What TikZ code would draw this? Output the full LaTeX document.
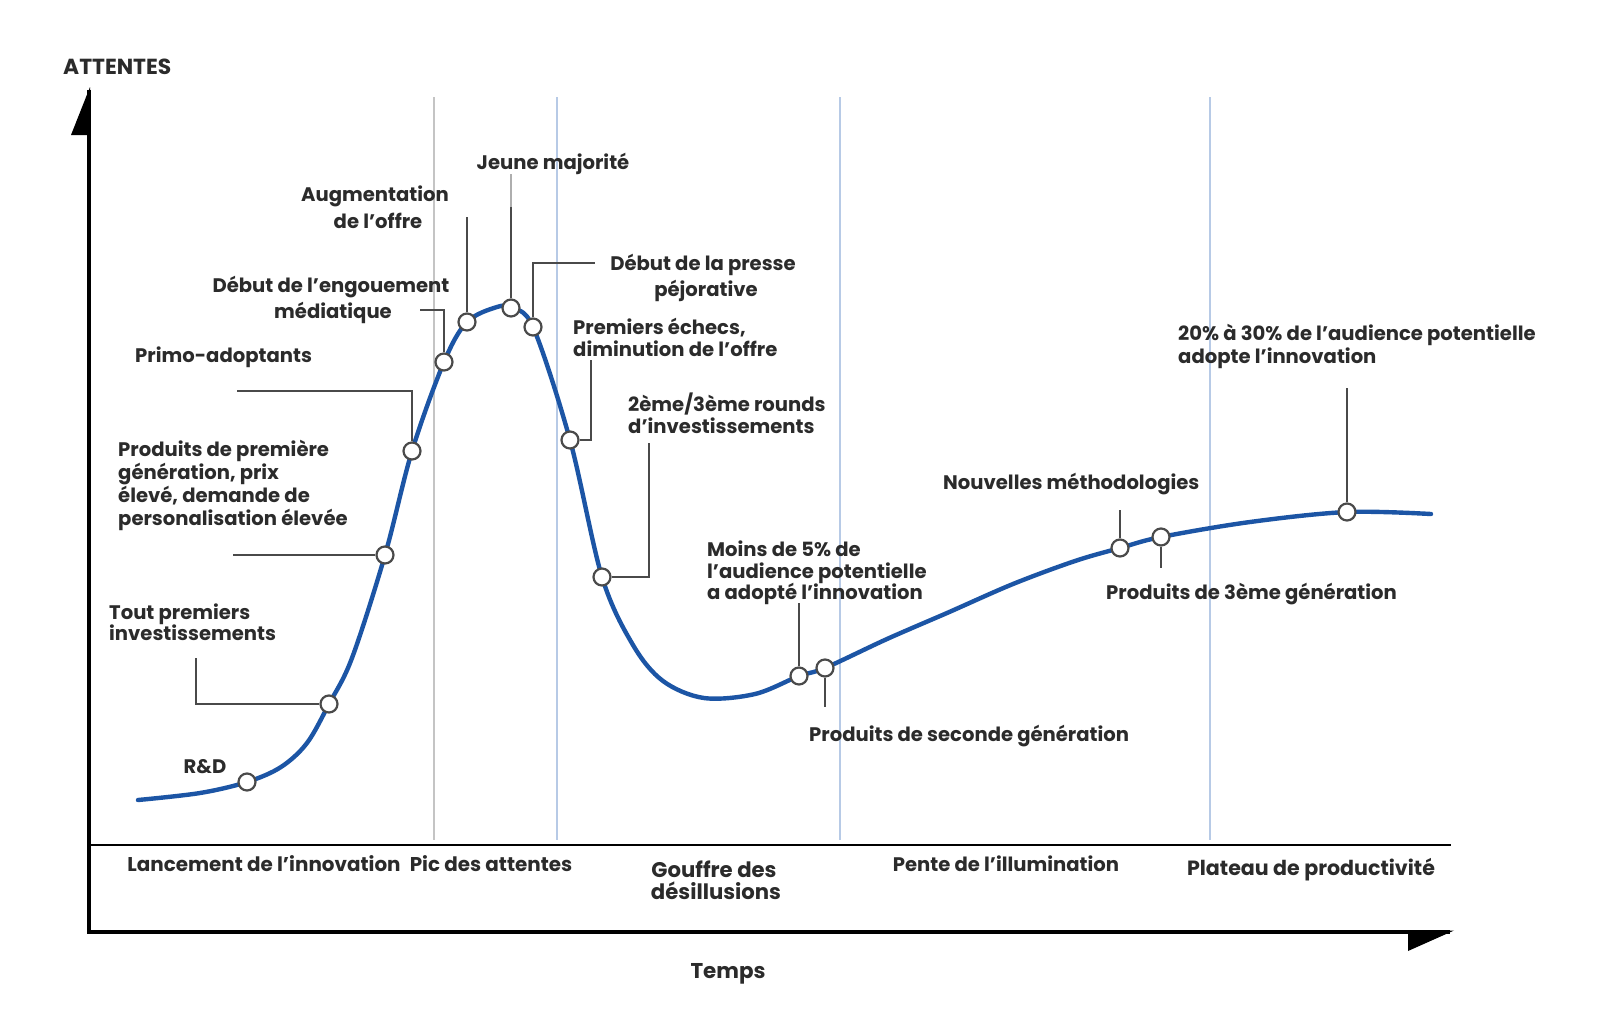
\documentclass[tikz,border=0pt]{standalone}
\usepackage{fontspec}
\setmainfont{Poppins}
\definecolor{curveblue}{HTML}{1C55A5}
\definecolor{txtgray}{HTML}{2B2B2B}
\definecolor{leadgray}{HTML}{4A4A4A}
\definecolor{phasegray}{HTML}{C4C4C4}
\definecolor{phaseblue}{HTML}{B7CAE6}
\begin{document}
\begin{tikzpicture}[x=1pt,y=-1pt,
  lbl/.style={font=\bfseries\fontsize{19.6}{23}\selectfont, text=txtgray, inner sep=0pt},
  lblL/.style={lbl, anchor=base west},
  lblC/.style={lbl, anchor=base},
  leader/.style={draw=leadgray, line width=2.4pt},
  ptmark/.style={circle, draw=leadgray, fill=white, line width=2.2pt, minimum size=17pt, inner sep=0pt},
  axisline/.style={draw=black, line width=3.2pt},
  phaseline/.style={line width=1.8pt}]
\useasboundingbox (0,0) rectangle (1600,1021);
\fill[white] (0,0) rectangle (1600,1021);

% phase lines
\draw[phaseline, phasegray] (434,97) -- (434,840);
\draw[phaseline, phaseblue] (557,97) -- (557,840);
\draw[phaseline, phaseblue] (840,97) -- (840,840);
\draw[phaseline, phaseblue] (1210,97) -- (1210,840);

% axes
\coordinate (ytop) at (89,90);
\coordinate (origin) at (89,932);
\coordinate (xend) at (1450,932);
\draw[axisline] (ytop) -- (origin) -- (xend);
\draw[axisline, line width=2.6pt] (89,845) -- (1451,845);
\fill[black] (90,87) -- (71,135) -- (90,135) -- cycle;
\fill[black] (1408,930.5) -- (1454,930.5) -- (1408,951) -- cycle;

% curve
\draw[curveblue, line width=4.4pt, line cap=round]
  plot[smooth, tension=0.55] coordinates {
  (138,800) (200,793) (247,782) (281,767) (307,743) (329,704) (352,658)
  (385,555) (412,451)
  (444,362) (467,322) (497,307) (511,308) (533,327) (570,440) (602,577)
  (633,645) (663,681) (704,698) (755,694) (799,676) (825,668)
  (887,639) (947,613) (1013,584) (1075,561) (1120,548) (1161,537)
  (1250,522) (1347,512) (1431,514)};

% markers
\node[ptmark] (rd)     at (247,782) {};
\node[ptmark] (tout)   at (329,704) {};
\node[ptmark] (prod1)  at (385,555) {};
\node[ptmark] (primo)  at (412,451) {};
\node[ptmark] (engou)  at (444,362) {};
\node[ptmark] (augm)   at (467,322) {};
\node[ptmark] (jeune)  at (511,308) {};
\node[ptmark] (presse) at (533,327) {};
\node[ptmark] (prem)   at (570,440) {};
\node[ptmark] (rounds) at (602,577) {};
\node[ptmark] (moins)  at (799,676) {};
\node[ptmark] (second) at (825,668) {};
\node[ptmark] (nouv)   at (1120,548) {};
\node[ptmark] (trois)  at (1161,537) {};
\node[ptmark] (vingt)  at (1347,512) {};

% leaders
\coordinate (toutA) at (196,704); \coordinate (toutB) at (196,658);
\draw[leader] (tout.west) -- (toutA) -- (toutB);
\coordinate (prodA) at (233,555);
\draw[leader] (prod1.west) -- (prodA);
\coordinate (primoA) at (412,391); \coordinate (primoB) at (237,391);
\draw[leader] (primo.north) -- (primoA) -- (primoB);
\coordinate (engA) at (444,310); \coordinate (engB) at (420,310);
\draw[leader] (engou.north) -- (engA) -- (engB);
\coordinate (augA) at (467,217);
\draw[leader] (augm.north) -- (augA);
\coordinate (jeuA) at (511,207); \coordinate (jeuB) at (511,174);
\draw[leader] (jeune.north) -- (jeuA);
\draw[leadgray!45, line width=1.6pt] (jeuA) -- (jeuB);
\coordinate (presA) at (533,263); \coordinate (presB) at (595,263);
\draw[leader] (presse.north) -- (presA) -- (presB);
\coordinate (premA) at (591,440); \coordinate (premB) at (591,360);
\draw[leader] (prem.east) -- (premA) -- (premB);
\coordinate (rndA) at (649,577); \coordinate (rndB) at (649,443);
\draw[leader] (rounds.east) -- (rndA) -- (rndB);
\coordinate (moinsA) at (799,603);
\draw[leader] (moins.north) -- (moinsA);
\coordinate (secA) at (825,707);
\draw[leader] (second.south) -- (secA);
\coordinate (nouvA) at (1120,510);
\draw[leader] (nouv.north) -- (nouvA);
\coordinate (troisA) at (1161,568);
\draw[leader] (trois.south) -- (troisA);
\coordinate (vingtA) at (1347,388);
\draw[leader] (vingt.north) -- (vingtA);

% labels
\node[lblL, font=\bfseries\fontsize{21.8}{25}\selectfont] (attentes) at (63,74) {ATTENTES};
\node[lblC] (lrd) at (205,773) {R\&D};
\node[lblL] (ltout1) at (109,619) {Tout premiers};
\node[lblL] (ltout2) at (109,640) {investissements};
\node[lblL] (lprod1) at (118,456) {Produits de première};
\node[lblL] (lprod2) at (118,479) {génération, prix};
\node[lblL] (lprod3) at (118,502) {élevé, demande de};
\node[lblL] (lprod4) at (118,525) {personalisation élevée};
\node[lblL] (lprimo) at (135,362) {Primo-adoptants};
\node[lblC] (leng1) at (331,292) {Début de l’engouement};
\node[lblC] (leng2) at (333,318) {médiatique};
\node[lblC] (laug1) at (375,201) {Augmentation};
\node[lblC] (laug2) at (378,228) {de l’offre};
\node[lblC] (ljeune) at (553,169) {Jeune majorité};
\node[lblC] (lpres1) at (703,270) {Début de la presse};
\node[lblC] (lpres2) at (706,296) {péjorative};
\node[lblL] (lprem1) at (573,334) {Premiers échecs,};
\node[lblL] (lprem2) at (573,356) {diminution de l’offre};
\node[lblL] (lrnd1) at (628,411) {2ème/3ème rounds};
\node[lblL] (lrnd2) at (628,433) {d’investissements};
\node[lblL] (lmoins1) at (707,556) {Moins de 5\% de};
\node[lblL] (lmoins2) at (707,578) {l’audience potentielle};
\node[lblL] (lmoins3) at (707,599) {a adopté l’innovation};
\node[lblL] (lsec) at (809,741) {Produits de seconde génération};
\node[lblL] (lnouv) at (943,489) {Nouvelles méthodologies};
\node[lblL] (ltrois) at (1106,599) {Produits de 3ème génération};
\node[lblL] (lving1) at (1178,340) {20\% à 30\% de l’audience potentielle};
\node[lblL] (lving2) at (1178,363) {adopte l’innovation};

% phases
\node[lblC, font=\bfseries\fontsize{19.9}{23}\selectfont] (ph1) at (264,871) {Lancement de l’innovation};
\node[lblC, font=\bfseries\fontsize{19.9}{23}\selectfont] (ph2) at (491,871) {Pic des attentes};
\node[lblC, font=\bfseries\fontsize{21.2}{25}\selectfont] (ph3a) at (714,877) {Gouffre des};
\node[lblC, font=\bfseries\fontsize{21.2}{25}\selectfont] (ph3b) at (716,899) {désillusions};
\node[lblC] (ph4) at (1006,871) {Pente de l’illumination};
\node[lblC, font=\bfseries\fontsize{20.6}{24}\selectfont] (ph5) at (1311,875) {Plateau de productivité};
\node[lblC, font=\bfseries\fontsize{21.4}{25}\selectfont] (temps) at (728,978) {Temps};
\end{tikzpicture}
\end{document}
